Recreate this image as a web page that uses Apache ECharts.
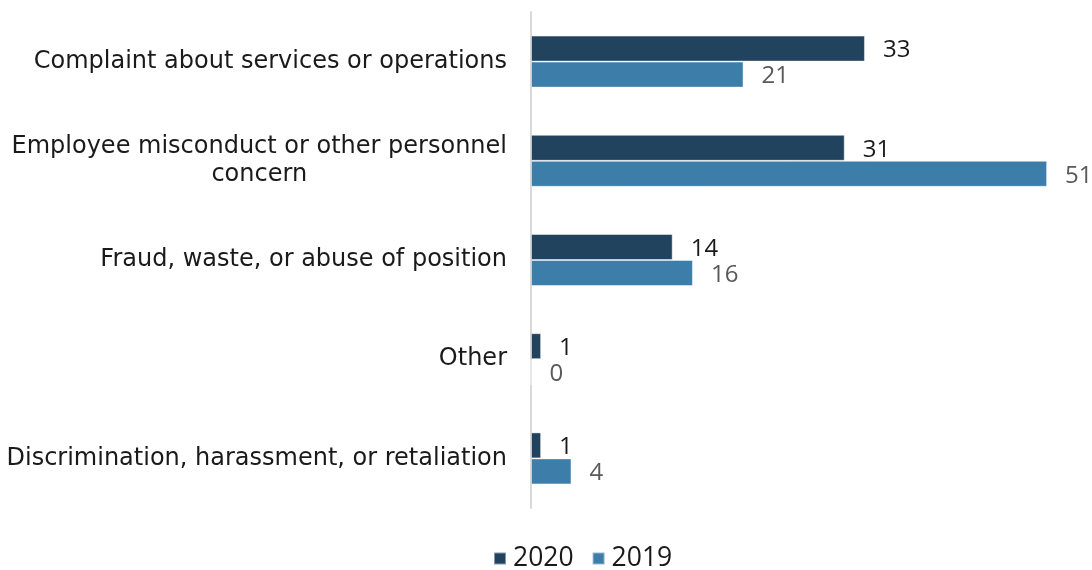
<!DOCTYPE html>
<html>
<head>
<meta charset="utf-8">
<script src="https://cdn.jsdelivr.net/npm/echarts@6/dist/echarts.min.js"></script>
<style>
  html, body { margin: 0; padding: 0; background: #ffffff; }
  #chart { width: 1092px; height: 570px; }
</style>
</head>
<body>
<div id="chart"></div>
<script>
// Complaint categories, top to bottom
const categories = [
  'Complaint about services or operations',
  'Employee misconduct or other personnel\nconcern',
  'Fraud, waste, or abuse of position',
  'Other',
  'Discrimination, harassment, or retaliation'
];
const seriesNames = ['2020', '2019'];
const values2020 = [33, 31, 14, 1, 1];
const values2019 = [21, 51, 16, 0, 4];

const colors = ['#22435e', '#3c7daa'];
const labelColors = ['#1a1a1a', '#595959'];

const chart = echarts.init(document.getElementById('chart'), null, { renderer: 'canvas' });

function barSeries(name, data, idx) {
  return {
    name: name,
    type: 'bar',
    data: data,
    barWidth: 26,
    barGap: '0%',
    itemStyle: {
      color: colors[idx],
      borderColor: 'rgba(255,255,255,0.45)',
      borderWidth: 1
    },
    label: {
      show: true,
      position: 'right',
      distance: 18,
      color: labelColors[idx],
      fontFamily: 'Open Sans',
      fontSize: 24,
      offset: [0, 2]
    },
    emphasis: { disabled: true },
    animation: false
  };
}

chart.setOption({
  animation: false,
  grid: {
    left: 531,
    top: 12,
    bottom: 62,
    width: 556.6,
    containLabel: false
  },
  xAxis: {
    type: 'value',
    min: 0,
    max: 55,
    show: false
  },
  yAxis: {
    type: 'category',
    data: categories,
    inverse: true,
    axisLine: { show: true, lineStyle: { color: '#d9d9d9', width: 2 } },
    axisTick: { show: false },
    splitLine: { show: false },
    axisLabel: {
      margin: 24,
      formatter: function (v) {
        return v.split('\n').map(function (s) { return '{c|' + s + '}'; }).join('\n');
      },
      rich: {
        c: {
          align: 'center',
          fontFamily: 'DejaVu Sans',
          fontSize: 24,
          color: '#1a1a1a',
          lineHeight: 28
        }
      }
    }
  },
  legend: {
    data: seriesNames,
    top: 545,
    left: 493,
    padding: 0,
    icon: 'rect',
    itemWidth: 12,
    itemHeight: 12,
    itemGap: 18,
    textStyle: {
      fontFamily: 'Open Sans',
      fontSize: 26.5,
      lineHeight: 26,
      color: '#1a1a1a',
      padding: [0, 0, 0, 2]
    }
  },
  series: [
    barSeries(seriesNames[0], values2020, 0),
    barSeries(seriesNames[1], values2019, 1)
  ]
});
</script>
</body>
</html>
